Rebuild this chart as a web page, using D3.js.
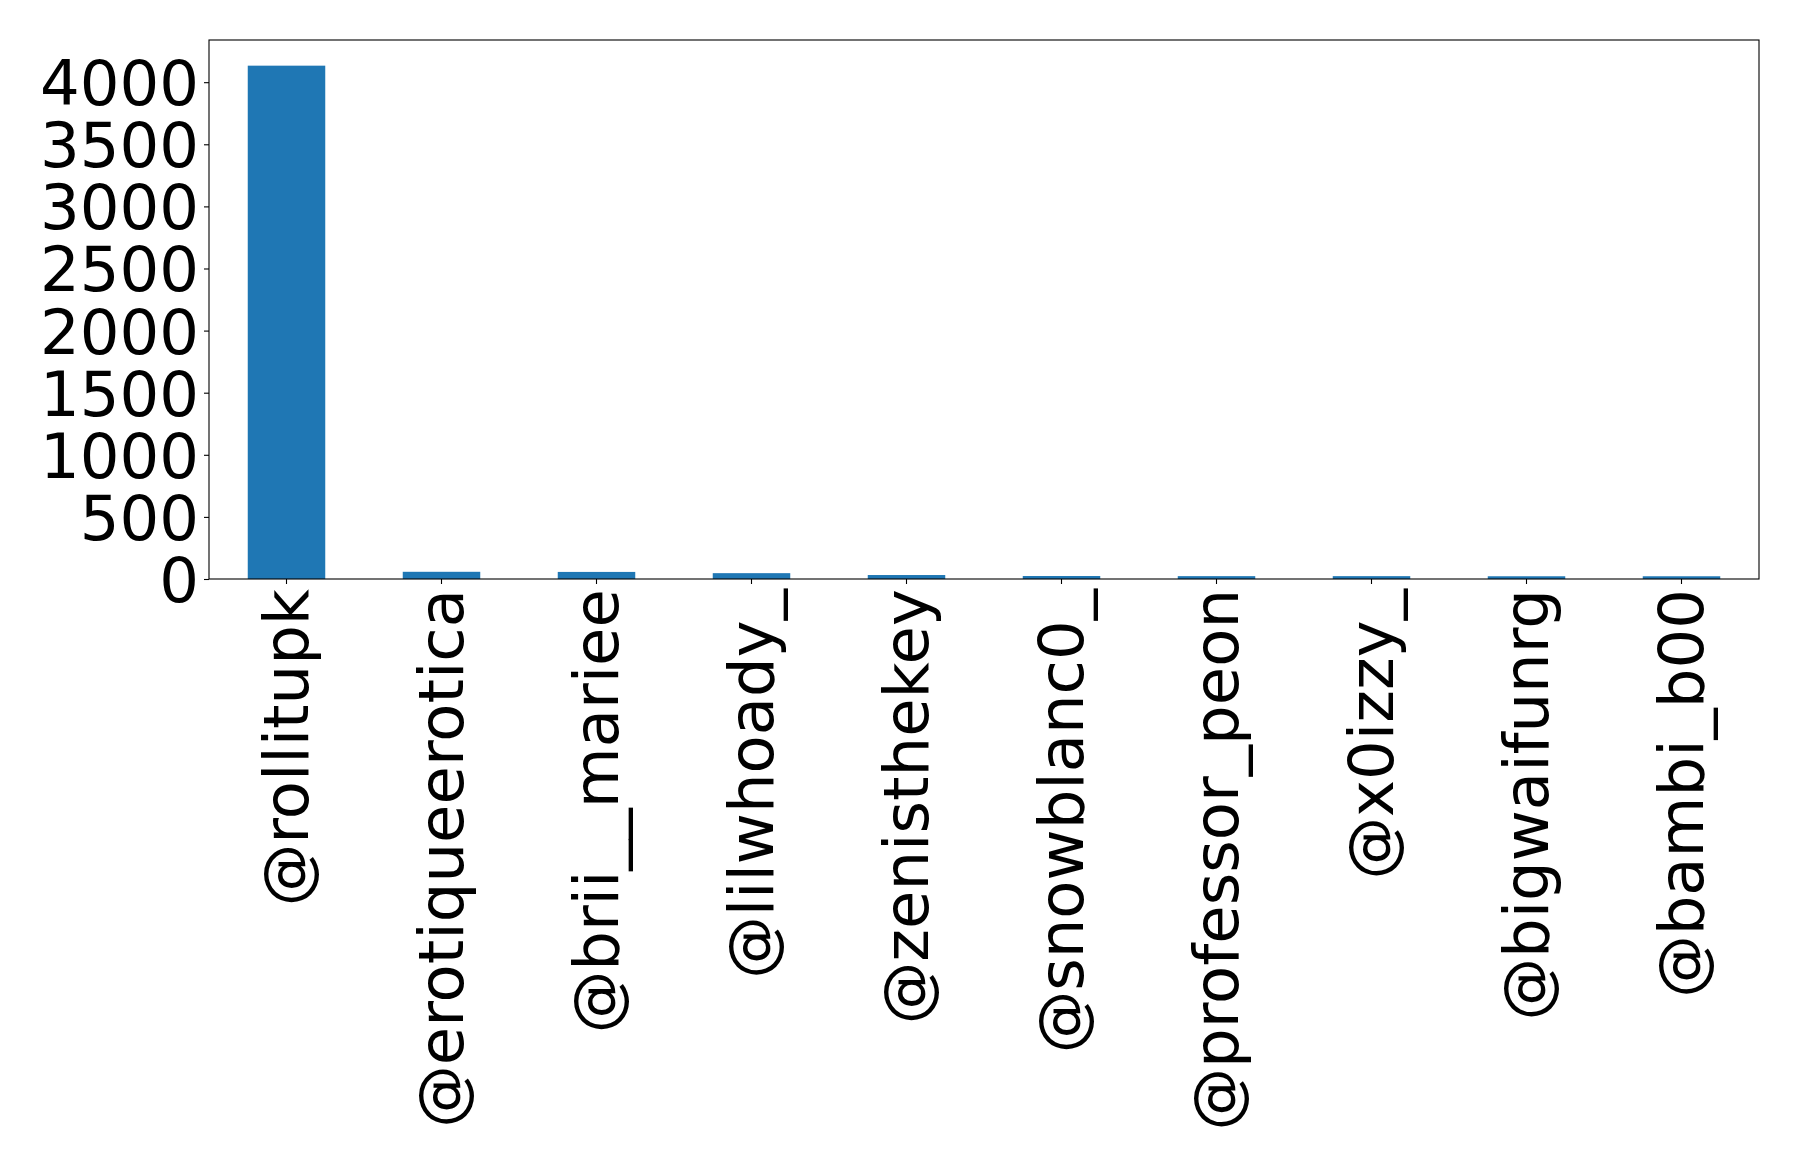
<!doctype html>
<html>
<head>
<meta charset="utf-8">
<title>Top accounts</title>
<script src="https://d3js.org/d3.v7.min.js"></script>
<style>
  html, body { margin: 0; padding: 0; background: #fff; }
  svg text { font-family: "DejaVu Sans", sans-serif; }
</style>
</head>
<body>
<svg id="chart" width="1798" height="1170"></svg>
<script>
// data
var accounts = ['@rollitupk', '@erotiqueerotica', '@brii__mariee', '@lilwhoady_', '@zenisthekey',
                '@snowblanc0_', '@professor_peon', '@x0izzy_', '@bigwaifunrg', '@bambi_b00'];
var counts = [4133, 58, 57, 47, 32, 24, 23, 23, 22, 22];
var yTicks = [0, 500, 1000, 1500, 2000, 2500, 3000, 3500, 4000];

var LEFT = 209, RIGHT = 1759, TOP = 40, BOTTOM = 579;
var FONT = 62.5;
var BAR_COLOR = '#1f77b4';

var svg = d3.select('#chart');

var x = d3.scaleBand()
    .domain(accounts)
    .range([LEFT, RIGHT])
    .paddingInner(0.5)
    .paddingOuter(0.25);

var y = d3.scaleLinear()
    .domain([0, d3.max(counts) * 1.05])
    .range([BOTTOM, TOP]);

var rows = accounts.map((a, i) => ({ name: a, value: counts[i] }));

svg.selectAll('rect.bar')
    .data(rows)
    .enter()
    .append('rect')
    .attr('class', 'bar')
    .attr('x', d => x(d.name))
    .attr('y', d => y(d.value))
    .attr('width', x.bandwidth())
    .attr('height', d => BOTTOM - y(d.value))
    .attr('fill', BAR_COLOR);

// y axis
var yAxis = svg.append('g')
    .attr('transform', 'translate(' + LEFT + ',0)')
    .call(d3.axisLeft(y).tickValues(yTicks).tickSize(5).tickPadding(5).tickFormat(d3.format('d')));
yAxis.select('.domain').remove();
yAxis.selectAll('line').attr('stroke', '#000').attr('stroke-width', 1.1);
yAxis.selectAll('text')
    .attr('font-size', FONT)
    .attr('fill', '#000')
    .attr('dy', '0.36em');

// x axis
var xAxis = svg.append('g')
    .attr('transform', 'translate(0,' + BOTTOM + ')')
    .call(d3.axisBottom(x).tickSize(5).tickPadding(5));
xAxis.select('.domain').remove();
xAxis.selectAll('line').attr('stroke', '#000').attr('stroke-width', 1.1);
xAxis.selectAll('text')
    .attr('font-size', FONT)
    .attr('fill', '#000')
    .attr('text-anchor', 'end')
    .attr('y', 0)
    .attr('x', -10)
    .attr('dy', '0.34em')
    .attr('transform', 'rotate(-90)');

// frame
svg.append('rect')
    .attr('x', LEFT)
    .attr('y', TOP)
    .attr('width', RIGHT - LEFT)
    .attr('height', BOTTOM - TOP)
    .attr('fill', 'none')
    .attr('stroke', '#000')
    .attr('stroke-width', 1.1);
</script>
</body>
</html>
